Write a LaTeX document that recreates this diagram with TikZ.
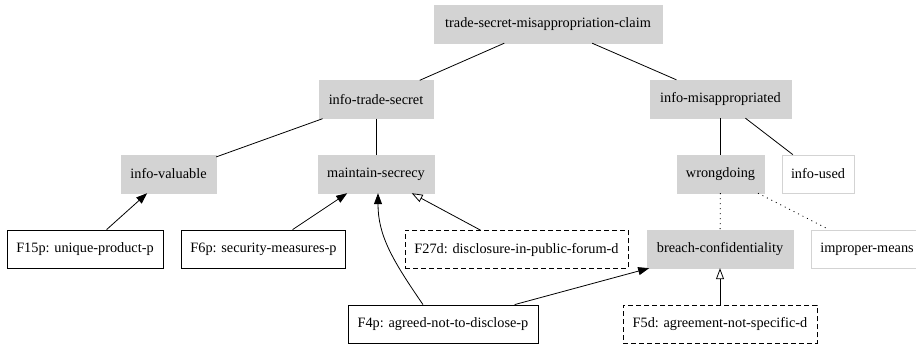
\documentclass[tikz,border=0pt]{standalone}
\usepackage{fontspec}
\setmainfont{Liberation Serif}
\usetikzlibrary{arrows.meta}
\definecolor{lgray}{HTML}{D3D3D3}
\begin{document}
\begin{tikzpicture}[x=1pt,y=-1pt,
  every node/.style={font=\fontsize{14.3}{16}\selectfont, minimum height=38pt, inner xsep=9pt, inner ysep=0pt, anchor=center},
  gbox/.style={fill=lgray, draw=lgray},
  wbox/.style={fill=white, draw=lgray, line width=0.8pt},
  fbox/.style={fill=white, draw=black, line width=0.8pt},
  dbox/.style={fill=white, draw=black, line width=0.8pt, dash pattern=on 5pt off 3pt},
  edge/.style={draw=black, line width=0.8pt},
  arr/.style={edge, -{Triangle[length=11pt,width=8pt]}},
  oarr/.style={edge, -{Triangle[open,length=11pt,width=8pt,fill=white]}},
  dot/.style={edge, dash pattern=on 1pt off 4pt}
]
\useasboundingbox (0,0) rectangle (916,347);
\node[gbox, minimum width=228pt] (root) at (548,24) {trade-secret-misappropriation-claim};
\node[gbox, minimum width=114pt] (its) at (376,99.5) {info-trade-secret};
\node[gbox, minimum width=141pt] (im) at (720.5,99) {info-misappropriated};
\node[gbox, minimum width=95pt] (iv) at (168.5,174) {info-valuable};
\node[gbox, minimum width=116pt] (ms) at (376,174) {maintain-secrecy};
\node[gbox, minimum width=87pt] (wd) at (720.5,174) {wrongdoing};
\node[wbox, minimum width=72pt] (iu) at (818,174) {info-used};
\node[fbox, minimum width=156pt] (f15) at (85,249) {F15p: unique-product-p};
\node[fbox, minimum width=163pt] (f6) at (263.5,249) {F6p: security-measures-p};
\node[dbox, minimum width=223pt] (f27) at (516.5,249.5) {F27d: disclosure-in-public-forum-d};
\node[gbox, minimum width=146pt] (bc) at (720,249) {breach-confidentiality};
\node[wbox, minimum width=112pt] (ipm) at (867,249) {improper-means};
\node[fbox, minimum width=190pt] (f4) at (443,324) {F4p: agreed-not-to-disclose-p};
\node[dbox, minimum width=194pt] (f5) at (720,324.5) {F5d: agreement-not-specific-d};

\draw[edge] (root) -- (its);
\draw[edge] (root) -- (im);
\draw[edge] (its) -- (iv);
\draw[edge] (its) -- (ms);
\draw[edge] (im) -- (wd);
\draw[edge] (im) -- (iu);
\draw[dot] (wd) -- (bc);
\draw[dot] (wd) -- (ipm);
\draw[arr] (f15) -- (iv);
\draw[arr] (f6) -- (ms);
\draw[oarr] (f27) -- (ms);
\draw[arr] (f4) -- (bc);
\draw[oarr] (f5) -- (bc);
\draw[arr] ([xshift=-20pt]f4.north) .. controls +(-31,-45) and +(0,42) .. ([xshift=2pt]ms.south);
\end{tikzpicture}
\end{document}
